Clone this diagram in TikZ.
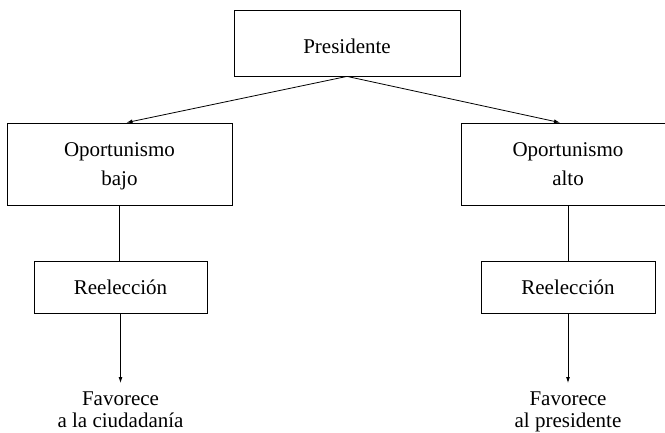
\documentclass[tikz,border=0pt]{standalone}
\usepackage{fontspec}
\setmainfont{Liberation Serif}
\usetikzlibrary{arrows.meta}
\begin{document}
\begin{tikzpicture}[x=1pt,y=-1pt,
  box/.style={draw, line width=0.8pt, inner sep=0pt, align=center, font=\fontsize{21}{29}\selectfont},
  lbl/.style={inner sep=0pt, align=center, font=\fontsize{21}{22}\selectfont},
  conn/.style={line width=0.8pt},
  arr/.style={conn, -{Latex[length=6pt,width=4pt]}}]
\useasboundingbox (0,0) rectangle (665,433);
\node[box, minimum width=226pt, minimum height=66pt, text height=22pt, text depth=0pt] (pres) at (347,43) {Presidente};
\node[box, minimum width=225pt, minimum height=82pt, text depth=0pt] (opb) at (119.5,164) {Oportunismo\\bajo};
\node[box, minimum width=214pt, minimum height=82pt, text depth=0pt] (opa) at (568,164) {Oportunismo\\alto};
\node[box, minimum width=173pt, minimum height=52pt] (reb) at (120.5,287) {Reelección};
\node[box, minimum width=174pt, minimum height=52pt] (rea) at (568,287) {Reelección};
\node[lbl, anchor=north] (fb) at (120.5,392) {Favorece\\a la ciudadanía};
\node[lbl, anchor=north] (fa) at (568,392) {Favorece\\al presidente};
\draw[arr] (pres.south) -- ([xshift=7pt]opb.north);
\draw[arr] (pres.south) -- ([xshift=-8pt]opa.north);
\draw[conn] (opb.south) -- (opb.south |- reb.north);
\draw[conn] (opa.south) -- (opa.south |- rea.north);
\draw[arr, shorten >=9pt] (reb.south) -- (fb.north);
\draw[arr, shorten >=9pt] (rea.south) -- (fa.north);
\end{tikzpicture}
\end{document}
